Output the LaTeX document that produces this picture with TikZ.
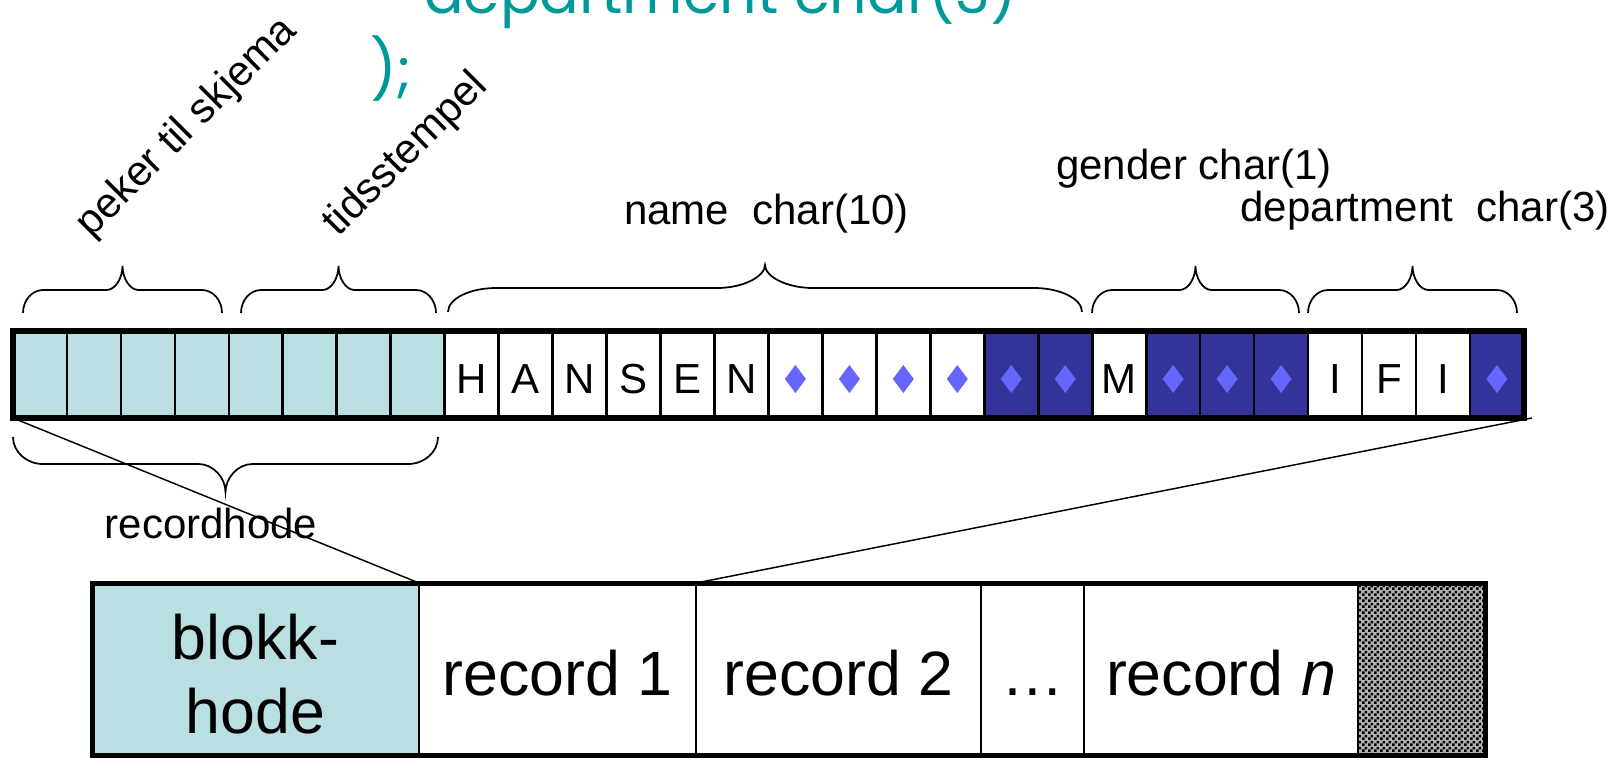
\documentclass[tikz,border=0pt]{standalone}
\usepackage{fontspec}
\setmainfont{Liberation Sans}
\newfontfamily\codefont{Poppins}
\usetikzlibrary{patterns.meta}
\definecolor{headfill}{HTML}{B9DFE2}
\definecolor{padfill}{HTML}{333399}
\definecolor{padmark}{HTML}{6666FF}
\definecolor{codeteal}{HTML}{009999}

% fine checkerboard for the unused space at the end of the block
\tikzdeclarepattern{
  name=finechecker,
  type=uncolored,
  bottom left={(0pt,0pt)},
  top right={(4.5pt,4.5pt)},
  tile size={(4.5pt,4.5pt)},
  code={
    \fill (0pt,0pt) rectangle (2.25pt,2.25pt);
    \fill (2.25pt,2.25pt) rectangle (4.5pt,4.5pt);
  }
}

% horizontal curly brace: x1, x2, y at ends, y of the straight part, y of the tip,
% width of the end bends, width of the tip bends
\newcommand\curlybrace[7]{%
  \pgfmathsetmacro\bxm{(#1+#2)/2}%
  \pgfmathsetmacro\bya{#4+0.45*(#3-#4)}%
  \pgfmathsetmacro\byt{#4+0.5*(#5-#4)}%
  \draw[braceline] (#1,#3) .. controls (#1,\bya) and ({#1+0.45*#6},#4) .. ({#1+#6},#4)
    -- ({\bxm-#7},#4) .. controls ({\bxm-0.45*#7},#4) and (\bxm,\byt) .. (\bxm,#5)
    .. controls (\bxm,\byt) and ({\bxm+0.45*#7},#4) .. ({\bxm+#7},#4)
    -- ({#2-#6},#4) .. controls ({#2-0.45*#6},#4) and (#2,\bya) .. (#2,#3);
}

\begin{document}
\begin{tikzpicture}[x=0.75pt,y=-0.75pt,
  cell/.style={draw, line width=2pt, minimum width=40.47pt, minimum height=65.25pt,
    inner sep=0pt, outer sep=0pt},
  letter/.style={inner sep=0pt, font=\fontsize{31.5pt}{36pt}\selectfont},
  lbl/.style={inner sep=0pt, font=\fontsize{31.5pt}{36pt}\selectfont},
  bigtext/.style={inner sep=0pt, font=\fontsize{47pt}{54pt}\selectfont},
  blockcell/.style={draw, line width=1.9pt, minimum height=129pt, inner sep=0pt, outer sep=0pt},
  code/.style={inner sep=0pt, text=codeteal, font=\codefont\fontsize{44pt}{54pt}\selectfont},
  braceline/.style={line width=1.3pt},
  link/.style={line width=1.1pt}]
\useasboundingbox (0,0) rectangle (1623,757);
\clip (0,0) rectangle (1623,757);

% tail of the table definition
\node[code, anchor=base west] (codeA) at (424,13) {department char(3)};
\node[code, anchor=base west] (codeB) at (370,90) {);};

% the record: 28 byte cells
\foreach \i/\f in {0/headfill,1/headfill,2/headfill,3/headfill,4/headfill,5/headfill,6/headfill,7/headfill,
  8/white,9/white,10/white,11/white,12/white,13/white,14/white,15/white,16/white,17/white,
  18/padfill,19/padfill,20/white,21/padfill,22/padfill,23/padfill,24/white,25/white,26/white,27/padfill}
  \node[cell, fill=\f] (c\i) at ({13+53.96*(\i+0.5)},374.5) {};
\foreach \i/\ch in {8/H,9/A,10/N,11/S,12/E,13/N,20/M,24/I,25/F,26/I}
  \node[letter, anchor=base] (l\i) at ({13+53.96*(\i+0.5)},393) {\ch};
\foreach \i in {14,15,16,17,18,19,21,22,23,27}
  \fill[padmark] ({13+53.96*(\i+0.5)},365) -- ++(10.5,14) -- ++(-10.5,14) -- ++(-10.5,-14) -- cycle;
\draw[line width=4.5pt] (c0.north west) rectangle (c27.south east);

% braces over the fields
\curlybrace{23}{222}{313}{290}{266}{20}{16}
\curlybrace{241}{436}{313}{290}{266}{20}{16}
\curlybrace{448}{1082}{312}{288}{265}{48}{48}
\curlybrace{1092}{1299}{313}{290}{266}{20}{16}
\curlybrace{1308}{1517}{313}{290}{266}{20}{16}
% brace under the record header
\curlybrace{13}{438}{437}{464}{492}{30}{27}

% field labels
\node[lbl, rotate=45] (lpk) at (187,128) {peker til skjema};
\node[lbl, rotate=45] (lts) at (406,155) {tidsstempel};
\node[lbl, anchor=base] (lnm) at (766.5,224) {name\ \ char(10)};
\node[lbl, anchor=base] (lgd) at (1194,179) {gender char(1)};
\node[lbl, anchor=base] (ldp) at (1425,221) {department\ \ char(3)};
\node[lbl, anchor=base] (lrh) at (211,538) {recordhode};

% the block
\node[blockcell, fill=headfill, minimum width={(419-92)*0.75pt}] (bh) at (255.5,669) {};
\node[blockcell, minimum width={(696-419)*0.75pt}] (r1) at (557.5,669) {};
\node[blockcell, minimum width={(981-696)*0.75pt}] (r2) at (838.5,669) {};
\node[blockcell, minimum width={(1084-981)*0.75pt}] (dd) at (1032.5,669) {};
\node[blockcell, minimum width={(1358-1084)*0.75pt}] (rn) at (1221,669) {};
\node[blockcell, fill=black!30, minimum width={(1485.5-1358)*0.75pt}] (free) at (1421.75,669) {};
\fill[pattern={finechecker}, pattern color=black] (free.north west) rectangle (free.south east);
\draw[line width=1.9pt] (free.north west) -- (free.south west);
\draw[line width=3.75pt] (bh.north west) rectangle (free.south east);

\node[bigtext, anchor=base] (tbh1) at (255.5,659) {blokk-};
\node[bigtext, anchor=base] (tbh2) at (255.5,733) {hode};
\node[bigtext, anchor=base] (tr1) at (557.5,695) {record 1};
\node[bigtext, anchor=base] (tr2) at (838.5,695) {record 2};
\node[bigtext, anchor=base] (tdd) at (1032.5,695) {\dots};
\node[bigtext, anchor=base] (trn) at (1221,695) {record \textit{n}};

% the record sits inside the block
\draw[link] (c0.south west) -- (bh.north east);
\draw[link] ([xshift=6pt]c27.south east) -- (r1.north east);
\end{tikzpicture}
\end{document}
